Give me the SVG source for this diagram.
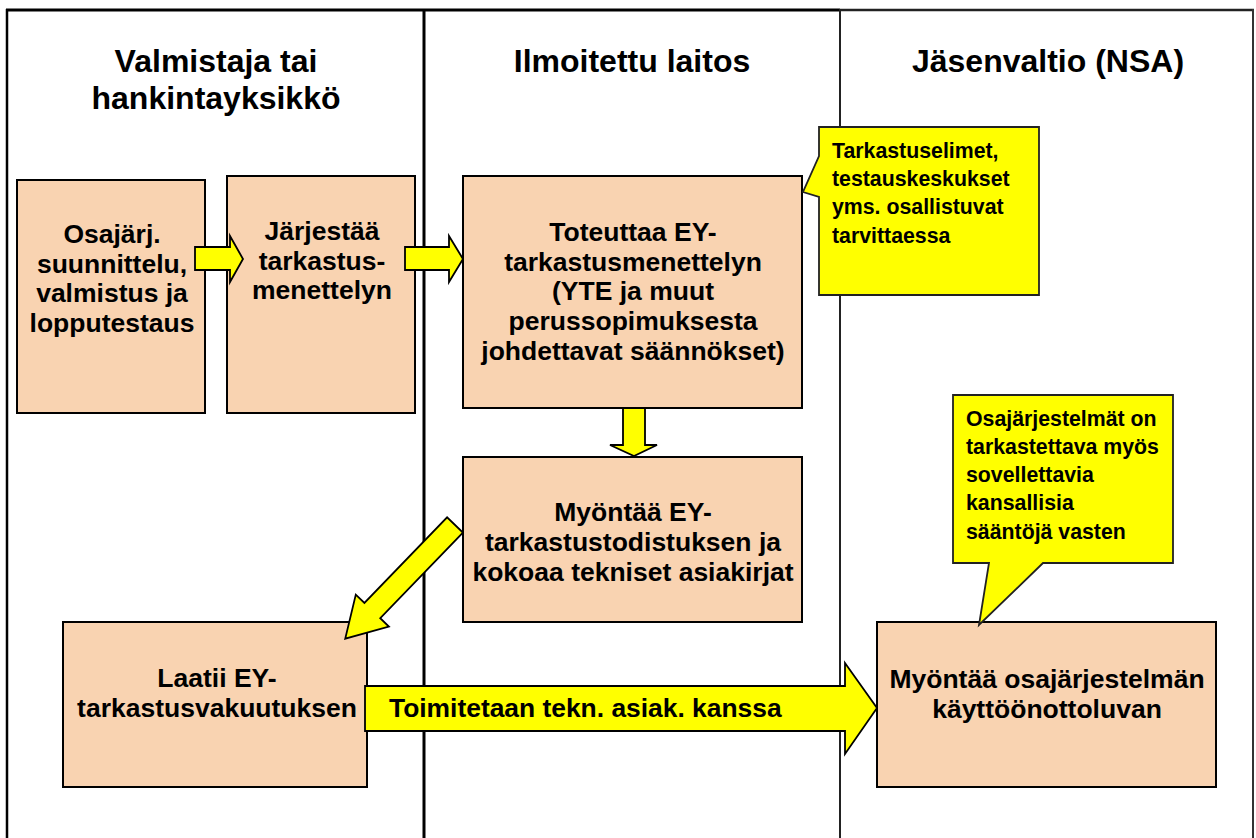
<svg xmlns="http://www.w3.org/2000/svg" width="1256" height="838" viewBox="0 0 1256 838">
<style>
text{font-family:"Liberation Sans",Arial,sans-serif;font-weight:bold;fill:#000}
.hdr{font-size:32px;text-anchor:middle}
.bx{font-size:26.5px;text-anchor:middle}
.co{font-size:21.3px}
.box{fill:#F9D3B1;stroke:#000;stroke-width:2}
.arr{fill:#FFFF00;stroke:#000;stroke-width:1.8;stroke-linejoin:miter}
.call{fill:#FFFF00;stroke:#222;stroke-width:1.8}
</style>
<rect width="1256" height="838" fill="#fff"/>
<g id="frame">
<line x1="6" y1="10" x2="840" y2="10" stroke="#000" stroke-width="3"/>
<line x1="840" y1="10" x2="1254" y2="10" stroke="#222" stroke-width="2.5"/>
<line x1="7" y1="9" x2="7" y2="838" stroke="#000" stroke-width="2.5"/>
<line x1="424" y1="9" x2="424" y2="838" stroke="#000" stroke-width="3"/>
<line x1="840" y1="9" x2="840" y2="838" stroke="#222" stroke-width="2"/>
<line x1="1253" y1="9" x2="1253" y2="838" stroke="#333" stroke-width="2"/>
</g>
<g id="headers">
<text class="hdr" x="216" y="72">Valmistaja tai</text>
<text class="hdr" x="216" y="109">hankintayksikkö</text>
<text class="hdr" x="632" y="72">Ilmoitettu laitos</text>
<text class="hdr" x="1048" y="72">Jäsenvaltio (NSA)</text>
</g>
<g id="n1">
<rect class="box" x="17" y="180" width="188" height="233"/>
<text class="bx" x="112" y="243">Osajärj.</text>
<text class="bx" x="112" y="273">suunnittelu,</text>
<text class="bx" x="112" y="302">valmistus ja</text>
<text class="bx" x="112" y="332">lopputestaus</text>
</g>
<g id="n2">
<rect class="box" x="227" y="176" width="188" height="237"/>
<text class="bx" x="322" y="240">Järjestää</text>
<text class="bx" x="322" y="270">tarkastus-</text>
<text class="bx" x="322" y="299">menettelyn</text>
</g>
<g id="n3">
<rect class="box" x="463" y="176" width="339" height="232"/>
<text class="bx" x="633" y="241">Toteuttaa EY-</text>
<text class="bx" x="633" y="271">tarkastusmenettelyn</text>
<text class="bx" x="633" y="300">(YTE ja muut</text>
<text class="bx" x="633" y="330">perussopimuksesta</text>
<text class="bx" x="633" y="360">johdettavat säännökset)</text>
</g>
<g id="n4">
<rect class="box" x="463" y="457" width="339" height="165"/>
<text class="bx" x="633" y="521">Myöntää EY-</text>
<text class="bx" x="633" y="551">tarkastustodistuksen ja</text>
<text class="bx" x="633" y="581">kokoaa tekniset asiakirjat</text>
</g>
<g id="n5">
<rect class="box" x="63" y="622" width="304" height="165"/>
<text class="bx" x="217" y="687">Laatii EY-</text>
<text class="bx" x="217" y="717">tarkastusvakuutuksen</text>
</g>
<g id="n6">
<rect class="box" x="877" y="622" width="339" height="165"/>
<text class="bx" x="1047" y="688">Myöntää osajärjestelmän</text>
<text class="bx" x="1047" y="718">käyttöönottoluvan</text>
</g>
<g id="connectors">
<polygon class="arr" points="195,247 230,247 230,236 243,259 230,282 230,270 195,270"/>
<polygon class="arr" points="405,247 449,247 449,236 463,259 449,282 449,270 405,270"/>
<polygon class="arr" points="623,408 645,408 645,445 657,445 634,456 610,445 623,445"/>
<polygon class="arr" transform="translate(455,525) rotate(134)" points="0,-11 119,-11 119,-23 158,0 119,23 119,11 0,11"/>
<polygon class="arr" points="365,686 845,686 845,663 877,708 845,754 845,731 365,731"/>
<text x="389" y="717" style="font-size:26.4px">Toimitetaan tekn. asiak. kanssa</text>
</g>
<g id="callout1">
<polygon class="call" points="819,127 1039,127 1039,295 819,295 819,197 803,192 819,156"/>
<text class="co" x="832" y="158">Tarkastuselimet,</text>
<text class="co" x="832" y="186">testauskeskukset</text>
<text class="co" x="832" y="214">yms. osallistuvat</text>
<text class="co" x="832" y="243">tarvittaessa</text>
</g>
<g id="callout2">
<polygon class="call" points="953,395 1173,395 1173,563 1043,563 979,625 989,563 953,563"/>
<text class="co" x="966" y="426">Osajärjestelmät on</text>
<text class="co" x="966" y="454">tarkastettava myös</text>
<text class="co" x="966" y="482">sovellettavia</text>
<text class="co" x="966" y="510">kansallisia</text>
<text class="co" x="966" y="539">sääntöjä vasten</text>
</g>
</svg>
